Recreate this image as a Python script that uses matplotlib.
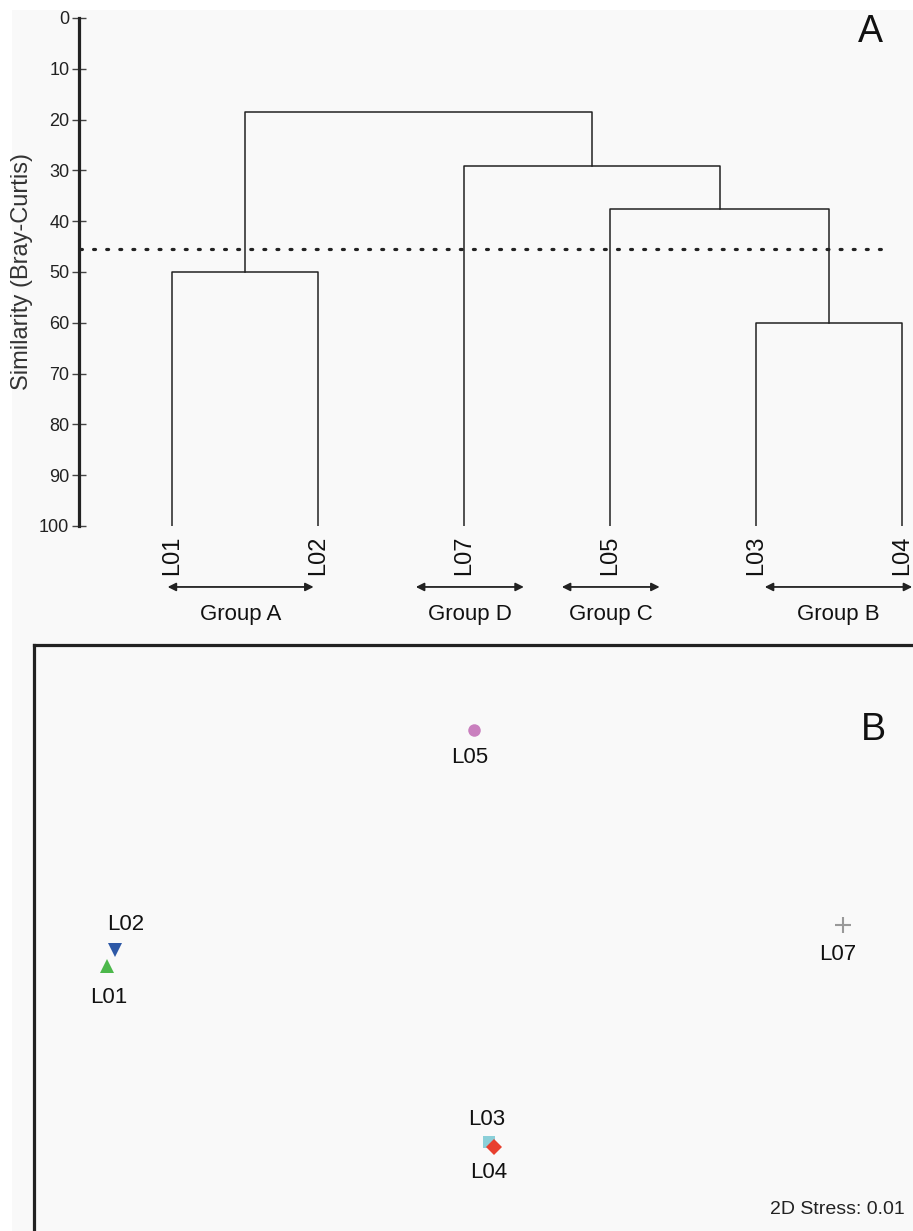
import matplotlib
matplotlib.use('Agg')
from matplotlib import pyplot as plt
from matplotlib.patches import Rectangle

plt.rcParams['font.family'] = ['Liberation Sans', 'DejaVu Sans']

# ---- dendrogram data (panel A)
leaf_order = ['L01', 'L02', 'L07', 'L05', 'L03', 'L04']
# (left child, right child, similarity at which they join)
merges = [('L01', 'L02', 50.0),
          ('L03', 'L04', 60.0),
          ('L05', 'c2', 37.6),
          ('L07', 'c3', 29.1),
          ('c1', 'c4', 18.5)]
cut_level = 45.5
groups = ['Group A', 'Group D', 'Group C', 'Group B']
group_spans = [(0.97, 1.97), (2.67, 3.41), (3.67, 4.34), (5.06, 6.07)]

# ---- nMDS data (panel B)
mds_labels = ['L01', 'L02', 'L03', 'L04', 'L05', 'L07']
mds_x = [-0.837, -0.819, 0.016, 0.027, -0.018, 0.806]
mds_y = [-0.047, -0.011, -0.440, -0.451, 0.480, 0.045]
stress = 0.01

markers = {'L01': '^', 'L02': 'v', 'L03': 's', 'L04': 'D', 'L05': 'o', 'L07': '+'}
colors = {'L01': '#4cb84b', 'L02': '#2d58a6', 'L03': '#8bcfd8', 'L04': '#e8402f',
          'L05': '#c97fbe', 'L07': '#999999'}
msize = {'L01': 10, 'L02': 10, 'L03': 9, 'L04': 8, 'L05': 9, 'L07': 11}
# label offsets in pixels (dx, dy; dy positive = up)
label_off = {'L01': (2, -31), 'L02': (11, 25), 'L03': (-2, 23), 'L04': (-5, -26),
             'L05': (-4, -27), 'L07': (-5, -30)}

W, H = 913, 1231
fig = plt.figure(figsize=(W / 100, H / 100), dpi=100)
fig.patch.set_facecolor('white')
fig.add_artist(Rectangle((12 / W, 0), 1, (H - 10) / H, transform=fig.transFigure,
                         facecolor='#f9f9f9', edgecolor='none', zorder=-10))

line_col = '#222222'

# ================= panel A
axA = fig.add_axes([79 / W, (H - 526) / H, (W - 79) / W, 508 / H])
axA.set_facecolor('none')
xpos = {name: i + 1 for i, name in enumerate(leaf_order)}
ypos = {name: 100.0 for name in leaf_order}
for k, (a, b, h) in enumerate(merges):
    xa, xb = xpos[a], xpos[b]
    axA.plot([xa, xa, xb, xb], [ypos[a], h, h, ypos[b]], color=line_col, lw=1.1)
    xpos['c%d' % (k + 1)] = (xa + xb) / 2
    ypos['c%d' % (k + 1)] = h

axA.plot([0.37, 5.86], [cut_level, cut_level], color=line_col, lw=2.3,
         linestyle=(0, (0.6, 3.5)), dash_capstyle='round')

for name in leaf_order:
    axA.text(xpos[name], 101.8, name, rotation=90, ha='center', va='top',
             fontsize=17, color='#111111', clip_on=False)

for g, (x0, x1) in zip(groups, group_spans):
    axA.annotate('', xy=(x0, 112.0), xytext=(x1, 112.0), annotation_clip=False,
                 arrowprops=dict(arrowstyle='<|-|>', color=line_col, lw=1.3,
                                 mutation_scale=12, shrinkA=0, shrinkB=0))
    axA.text((x0 + x1) / 2, 115.3, g, ha='center', va='top', fontsize=16,
             color='#111111', clip_on=False)

axA.set_xlim((79 - 26) / 146, (W - 26) / 146)
axA.set_ylim(100, 0)
axA.set_yticks(range(0, 101, 10))
axA.set_xticks([])
for s in ['top', 'right', 'bottom']:
    axA.spines[s].set_visible(False)
axA.spines['left'].set_linewidth(2.3)
axA.spines['left'].set_color(line_col)
axA.tick_params(axis='y', direction='inout', length=10, width=1.0,
                color='#444444', labelsize=13, labelcolor='#222222', pad=2)
axA.set_ylabel('Similarity (Bray-Curtis)', fontsize=17, color='#333333', labelpad=4)
fig.text(870 / W, 1 - 32 / H, 'A', fontsize=27, ha='center', va='center', color='#111111')

# ================= panel B
axB = fig.add_axes([34 / W, (H - 1245) / H, (930 - 34) / W, (1245 - 645) / H])
axB.set_facecolor('none')
for i, name in enumerate(mds_labels):
    m = markers[name]
    axB.plot(mds_x[i], mds_y[i], marker=m, ms=msize[name], color=colors[name],
             mec=colors[name], mew=1.5 if m == '+' else 0, linestyle='none',
             zorder=3 if name != 'L04' else 4)
    dx, dy = label_off[name]
    axB.annotate(name, (mds_x[i], mds_y[i]), xytext=(dx * 0.72, dy * 0.72),
                 textcoords='offset points', ha='center', va='center',
                 fontsize=16, color='#111111')
axB.set_xlim(-1.0, 1.0)
axB.set_ylim(-0.67, 0.67)
axB.set_xticks([])
axB.set_yticks([])
for s in axB.spines.values():
    s.set_linewidth(2.3)
    s.set_color(line_col)
fig.text(873 / W, 1 - 730 / H, 'B', fontsize=27, ha='center', va='center', color='#111111')
fig.text(905 / W, 1 - 1209 / H, '2D Stress: %.2f' % stress, fontsize=14,
         ha='right', va='center', color='#222222')

fig.savefig('out.png', dpi=100)
